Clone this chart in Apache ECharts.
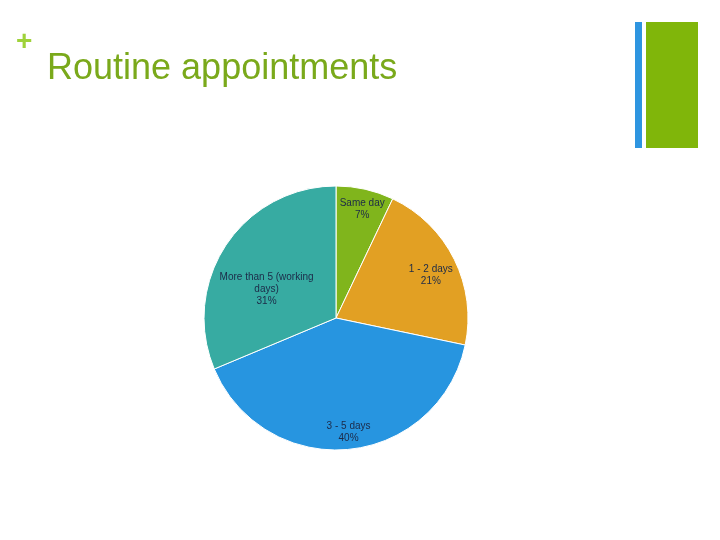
<!DOCTYPE html>
<html lang="en">
<head>
    <meta charset="UTF-8">
    <title>Routine appointments</title>
    <script type="text/javascript" src="https://cdn.jsdelivr.net/npm/echarts@6/dist/echarts.min.js"></script>
    <style>
        html, body { margin: 0; padding: 0; background: #fff; }
    </style>
</head>
<body>
<div id="main" style="width: 720px; height: 540px;"></div>
<script type="text/javascript">
    "use strict"
    // values (percent)
    var categories = ['Same day', '1 - 2 days', '3 - 5 days', 'More than 5 (working\ndays)'];
    var values = [7, 21, 40, 31];
    var colors = ['#80b51c', '#e2a023', '#2795e0', '#37aba2'];
    // nudge each label from the default inside spot
    var labelOffsets = [[11, -41], [33, -12], [6, 46], [-12, 9]];

    var myChart = echarts.init(document.getElementById('main'));

    var data = categories.map(function (name, i) {
        return {
            name: name,
            value: values[i],
            itemStyle: { color: colors[i] },
            label: { offset: labelOffsets[i] }
        };
    });

    var option = {
        animation: false,
        graphic: [
            {
                type: 'text',
                left: 16,
                top: 28,
                style: {
                    text: '+',
                    fill: '#9fd23a',
                    font: 'bold 28px "Liberation Sans", Arial, sans-serif'
                }
            },
            {
                type: 'text',
                left: 47,
                top: 51,
                style: {
                    text: 'Routine appointments',
                    fill: '#7aa91b',
                    font: '36px "Liberation Sans", Arial, sans-serif'
                }
            },
            {
                type: 'rect',
                shape: { x: 635, y: 22, width: 7, height: 126 },
                style: { fill: '#2e95e0' }
            },
            {
                type: 'rect',
                shape: { x: 646, y: 22, width: 52, height: 126 },
                style: { fill: '#80b60a' }
            }
        ],
        series: [
            {
                name: 'Routine appointments',
                type: 'pie',
                center: [336, 318],
                radius: 132,
                startAngle: 90,
                clockwise: true,
                data: data,
                itemStyle: {
                    borderColor: '#fff',
                    borderWidth: 1
                },
                label: {
                    position: 'inside',
                    formatter: '{b}\n{c}%',
                    color: '#1c2a48',
                    fontSize: 10,
                    lineHeight: 12,
                    fontFamily: '"Liberation Sans", Tahoma, sans-serif'
                },
                labelLine: { show: false },
                emphasis: { disabled: true }
            }
        ]
    };

    myChart.setOption(option);
</script>
</body>
</html>
